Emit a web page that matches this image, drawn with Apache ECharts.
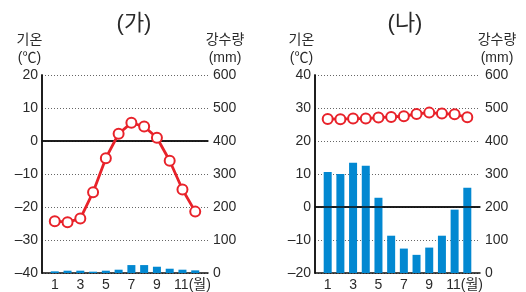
<!DOCTYPE html>
<html>
<head>
<meta charset="utf-8">
<script src="https://cdn.jsdelivr.net/npm/echarts@6/dist/echarts.min.js"></script>
<style>
html,body{margin:0;padding:0;background:#fff;}
#c{width:526px;height:292px;}
</style>
</head>
<body>
<div id="c"></div>
<script>
// ---- data ----
var months = [1,2,3,4,5,6,7,8,9,10,11,12];
var monthLabels = {1:'1',3:'3',5:'5',7:'7',9:'9',11:'11(월)'};
var tempA = [-24.3,-24.6,-23.5,-15.5,-5.2,2.2,5.5,4.4,1.0,-6.0,-14.7,-21.4];
var precA = [5,7,7,4,7,10,24,24,19,13,10,8];
var tempB = [26.7,26.6,26.8,26.8,27.1,27.3,27.5,28.2,28.6,28.3,28.1,27.2];
var precB = [306,300,334,325,228,113,74,55,77,113,192,258];
var titles = ['(가)','(나)'];
var tempName = '기온\n(℃)';
var precName = '강수량\n(mm)';
var tempRangeA = [-40,20];
var tempRangeB = [-20,40];
var precRange = [0,600];

var FONT = '"Liberation Sans", Arial, "Noto Sans CJK KR", sans-serif';
var TXT = '#2a2a2a';
var RED = '#e8222a';
var BLUE = '#0288d1';

function pairs(arr){ return months.map(function(m,i){ return [m, arr[i]]; }); }

var grids = [
  {left:42, top:75, width:166, height:198},
  {left:315, top:75, width:165, height:198}
];

function xAxis(gi){
  return {
    type:'value', gridIndex:gi, min:0, max:13, interval:1,
    axisLine:{show:true, lineStyle:{color:'#111', width:1.5}},
    axisTick:{show:false}, splitLine:{show:false},
    axisLabel:{
      color:TXT, fontSize:14, fontFamily:FONT, margin:5,
      formatter:function(v){
        if (v === 11) return '{p|' + monthLabels[11] + '}';
        return monthLabels[v] || '';
      },
      rich:{p:{color:TXT, fontSize:14, fontFamily:FONT, padding:[0,0,0,20]}}
    }
  };
}
function xTop(gi){
  return {
    type:'value', gridIndex:gi, min:0, max:13, position:'top',
    axisLine:{show:true, lineStyle:{color:'#111', width:1.5}},
    axisTick:{show:false}, axisLabel:{show:false}, splitLine:{show:false}
  };
}
function dash(v){ return String(v).replace('-', '–'); }
function yTemp(gi, range){
  return {
    type:'value', gridIndex:gi, min:range[0], max:range[1], interval:10, position:'left',
    axisLine:{show:true, lineStyle:{color:'#111', width:1.5}},
    axisTick:{show:false},
    axisLabel:{color:TXT, fontSize:14, fontFamily:FONT, margin:4, formatter:dash},
    splitLine:{show:true, lineStyle:{color:'#666', type:[1,2], width:1}}
  };
}
function yPrec(gi){
  return {
    type:'value', gridIndex:gi, min:precRange[0], max:precRange[1], interval:100, position:'right',
    axisLine:{show:true, lineStyle:{color:'#111', width:1.5}},
    axisTick:{show:false},
    axisLabel:{color:TXT, fontSize:14, fontFamily:FONT, margin:5},
    splitLine:{show:false}
  };
}

function barSeries(xi, yi, data){
  return {type:'bar', xAxisIndex:xi, yAxisIndex:yi, data:pairs(data), barWidth:8,
    itemStyle:{color:BLUE}, silent:true, z:2};
}
function lineSeries(xi, yi, data){
  return {type:'line', xAxisIndex:xi, yAxisIndex:yi, data:pairs(data),
    symbol:'circle', symbolSize:10,
    lineStyle:{color:RED, width:2.8},
    itemStyle:{color:'#fff', borderColor:RED, borderWidth:2},
    silent:true, z:5,
    markLine:{silent:true, symbol:'none', label:{show:false},
      lineStyle:{color:'#111', type:'solid', width:1.5},
      data:[{yAxis:0}], z:3}
  };
}
function nameText(x, txt){
  return {type:'text', x:x, y:31, silent:true,
    style:{text:txt, align:'center', fill:TXT, font:'14px ' + FONT, lineHeight:18}};
}

var option = {
  animation:false,
  title:[
    {text:titles[0], left:129, top:8, textAlign:'center', textStyle:{fontSize:22, fontWeight:'normal', color:TXT, fontFamily:FONT}},
    {text:titles[1], left:400, top:8, textAlign:'center', textStyle:{fontSize:22, fontWeight:'normal', color:TXT, fontFamily:FONT}}
  ],
  grid:grids,
  xAxis:[xAxis(0), xTop(0), xAxis(1), xTop(1)],
  yAxis:[yTemp(0, tempRangeA), yPrec(0), yTemp(1, tempRangeB), yPrec(1)],
  graphic:[
    nameText(29.5, tempName),
    nameText(225, precName),
    nameText(301.5, tempName),
    nameText(497, precName)
  ],
  series:[
    barSeries(0, 1, precA),
    lineSeries(0, 0, tempA),
    barSeries(2, 3, precB),
    lineSeries(2, 2, tempB)
  ]
};
var chart = echarts.init(document.getElementById('c'), null, {renderer:'canvas'});
chart.setOption(option);
</script>
</body>
</html>
